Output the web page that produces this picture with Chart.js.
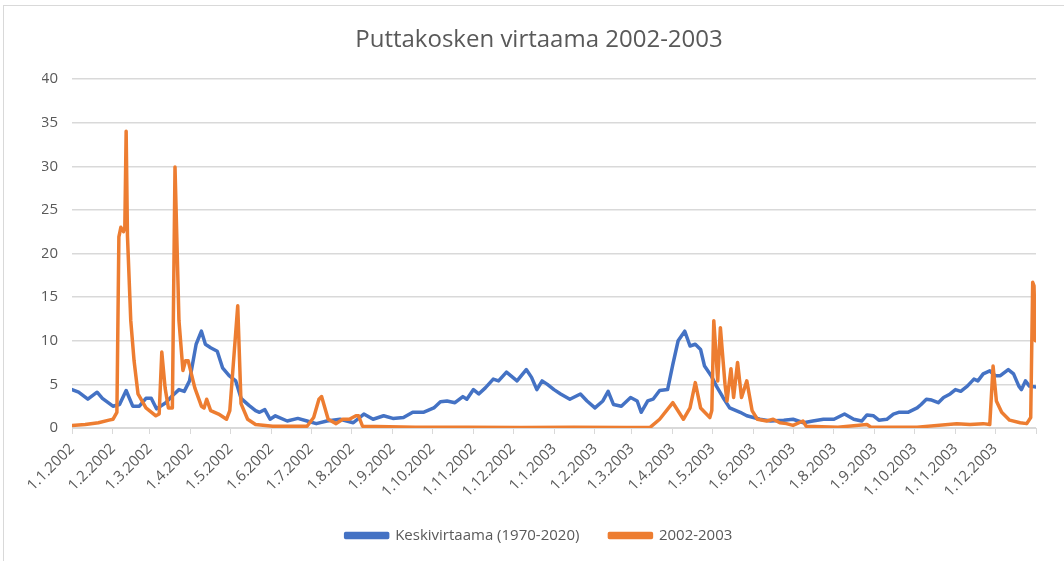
<!DOCTYPE html>
<html>
<head>
<meta charset="utf-8">
<script src="https://cdn.jsdelivr.net/npm/chart.js@4"></script>
<style>
  body { margin: 0; background: #fff; }
  #wrap { position: relative; width: 1064px; height: 561px; }
  #frame { position: absolute; left: 3px; top: 5px; right: 0; bottom: 0; border-top: 1px solid #d9d9d9; border-left: 1px solid #d9d9d9; }
  canvas { position: absolute; left: 0; top: 0; }
</style>
</head>
<body>
<div id="wrap">
  <div id="frame"></div>
  <canvas id="virtaama" width="1064" height="561"></canvas>
</div>
<script>
// Päivä 0 = 1.1.2002, viimeinen = 31.12.2003
const monthStartDays = [0, 31, 59, 90, 120, 151, 181, 212, 243, 273, 304, 334,
  365, 396, 424, 455, 485, 516, 546, 577, 608, 638, 669, 699, 730];
const tickLabels = ['1.1.2002', '1.2.2002', '1.3.2002', '1.4.2002', '1.5.2002', '1.6.2002',
  '1.7.2002', '1.8.2002', '1.9.2002', '1.10.2002', '1.11.2002', '1.12.2002',
  '1.1.2003', '1.2.2003', '1.3.2003', '1.4.2003', '1.5.2003', '1.6.2003',
  '1.7.2003', '1.8.2003', '1.9.2003', '1.10.2003', '1.11.2003', '1.12.2003', ''];

// Keskivirtaama (1970-2020): [päivä, m3/s]
const keskiDays = [0, 5, 12, 19, 23, 31, 36, 41, 46, 51, 56, 60, 64, 71, 76, 81, 85, 89, 94, 98,
  101, 105, 110, 114, 119, 124, 128, 134, 139, 142, 146, 150, 154, 163, 171, 178, 185, 193, 203,
  213, 221, 228, 236, 243, 251, 258, 266, 274, 279, 284, 290, 296, 299, 304, 308, 313, 319, 323,
  329, 337, 344, 348, 352, 356, 360, 365, 370, 377, 385, 390, 396, 402, 406, 410, 416, 423, 428,
  431, 436, 440, 445, 451, 455, 459, 464, 468, 472, 476, 479, 484, 488, 493, 498, 506, 511, 516,
  521, 529, 539, 546, 554, 561, 569, 577, 585, 592, 598, 602, 607, 611, 617, 622, 626, 633, 640,
  643, 647, 651, 656, 660, 665, 669, 673, 678, 683, 686, 690, 695, 699, 703, 709, 713, 717, 719,
  722, 725, 730];
const keskiValues = [4.4, 4.1, 3.3, 4.1, 3.4, 2.5, 2.7, 4.3, 2.5, 2.5, 3.4, 3.4, 2.2, 2.9, 3.7, 4.4,
  4.2, 5.4, 9.6, 11.1, 9.6, 9.2, 8.8, 6.9, 6.0, 5.4, 3.4, 2.6, 2.0, 1.8, 2.1, 1.0, 1.4, 0.8, 1.1,
  0.8, 0.5, 0.8, 1.0, 0.6, 1.6, 1.0, 1.4, 1.1, 1.2, 1.8, 1.8, 2.3, 3.0, 3.1, 2.9, 3.6, 3.3, 4.4,
  3.9, 4.6, 5.6, 5.4, 6.4, 5.4, 6.7, 5.8, 4.4, 5.4, 5.0, 4.4, 3.9, 3.3, 3.9, 3.1, 2.3, 3.1, 4.2,
  2.7, 2.5, 3.5, 3.1, 1.8, 3.1, 3.3, 4.3, 4.4, 7.3, 10.0, 11.1, 9.4, 9.6, 9.0, 7.1, 6.0, 4.8,
  3.5, 2.3, 1.8, 1.4, 1.2, 1.0, 0.8, 0.9, 1.0, 0.6, 0.8, 1.0, 1.0, 1.6, 1.0, 0.8, 1.5, 1.4, 0.9,
  1.0, 1.6, 1.8, 1.8, 2.3, 2.7, 3.3, 3.2, 2.9, 3.5, 3.9, 4.4, 4.2, 4.8, 5.6, 5.4, 6.2, 6.55, 6.0,
  6.0, 6.7, 6.2, 4.8, 4.4, 5.4, 4.8, 4.7];

// 2002-2003: [päivä, m3/s]
const vuosiDays = [0, 10, 20, 28, 31, 34, 35.5, 37, 39, 40, 41, 42, 44.5, 47, 50, 56, 63.5, 66,
  68, 70.5, 73, 76, 78, 81, 84, 86, 88, 93, 98, 100, 102, 105, 111, 117, 119.5, 125.5, 128, 133,
  139, 152, 178, 183, 187, 189, 194, 200, 205, 210, 215, 217, 220, 260, 300, 340, 380, 420, 438,
  445, 455, 463, 468, 472, 476, 483, 484.5, 486, 489, 491, 494.5, 496, 499, 501, 504, 507, 511,
  515, 519, 526, 531, 536, 541, 546, 553.5, 556, 580, 602, 605, 640, 670, 680, 690, 695, 697.5,
  700, 704, 710, 718, 723, 726, 727.5, 728.5, 729.5];
const vuosiValues = [0.3, 0.4, 0.6, 0.9, 1.0, 1.8, 21.9, 23.0, 22.5, 23.0, 34.0, 22.0, 12.3, 7.7,
  3.9, 2.3, 1.4, 1.6, 8.7, 4.6, 2.3, 2.3, 29.9, 12.3, 6.6, 7.7, 7.7, 4.6, 2.5, 2.3, 3.3, 2.0, 1.6,
  1.0, 2.0, 14.0, 2.8, 1.0, 0.4, 0.2, 0.2, 1.2, 3.3, 3.6, 1.0, 0.5, 1.0, 1.0, 1.4, 1.4, 0.2, 0.1,
  0.1, 0.05, 0.1, 0.05, 0.1, 1.0, 2.9, 1.0, 2.3, 5.2, 2.3, 1.2, 2.0, 12.3, 5.4, 11.5, 5.0, 3.1,
  6.8, 3.5, 7.5, 3.5, 5.4, 2.0, 1.0, 0.8, 1.0, 0.6, 0.5, 0.3, 0.8, 0.2, 0.1, 0.4, 0.1, 0.1, 0.5,
  0.4, 0.5, 0.4, 7.1, 3.1, 1.8, 0.9, 0.6, 0.5, 1.2, 16.7, 16.3, 10.0];

const yTicks = [0, 5, 10, 15, 20, 25, 30, 35, 40];

const toPoints = (days, values) => days.map((d, i) => ({ x: d, y: values[i] }));

const grey = '#595959';
const gridGrey = '#d9d9d9';

const ctx = document.getElementById('virtaama').getContext('2d');
const chart = new Chart(ctx, {
  type: 'line',
  data: {
    datasets: [{
      label: 'Keskivirtaama (1970-2020)',
      data: toPoints(keskiDays, keskiValues),
      borderColor: '#4472c4',
      backgroundColor: '#4472c4',
      borderWidth: 3.5,
      pointRadius: 0,
      order: 1
    }, {
      label: '2002-2003',
      data: toPoints(vuosiDays, vuosiValues),
      borderColor: '#ed7d31',
      backgroundColor: '#ed7d31',
      borderWidth: 3.5,
      pointRadius: 0,
      order: 0
    }]
  },
  options: {
    responsive: false,
    animation: false,
    layout: { padding: { left: 42, right: 28, top: 0, bottom: 8 } },
    elements: { line: { borderJoinStyle: 'round', borderCapStyle: 'round', tension: 0 } },
    plugins: {
      title: {
        display: true,
        text: 'Puttakosken virtaama 2002-2003',
        color: grey,
        font: { family: 'Open Sans', size: 24, weight: 'normal' },
        padding: { top: 25.6, bottom: 24.6 }
      },
      legend: {
        position: 'bottom',
        labels: {
          color: grey,
          font: { family: 'Open Sans', size: 15 },
          boxWidth: 42,
          boxHeight: 4,
          padding: 30,
          sort: (a, b) => a.datasetIndex - b.datasetIndex
        }
      },
      tooltip: { enabled: false }
    },
    scales: {
      x: {
        type: 'linear',
        min: 0,
        max: 730,
        afterBuildTicks: (scale) => {
          scale.ticks = monthStartDays.map(v => ({ value: v }));
        },
        afterFit: (scale) => { scale.height = 70; },
        ticks: {
          autoSkip: false,
          minRotation: 45,
          maxRotation: 45,
          color: grey,
          font: { family: 'Open Sans', size: 15 },
          padding: 6,
          callback: (value, index) => tickLabels[index]
        },
        grid: {
          drawOnChartArea: false,
          drawTicks: true,
          tickLength: 6,
          color: gridGrey
        },
        border: { display: true, color: gridGrey, width: 1 }
      },
      y: {
        min: 0,
        max: 40,
        afterBuildTicks: (scale) => {
          scale.ticks = yTicks.map(v => ({ value: v }));
        },
        afterFit: (scale) => { scale.width = 30; },
        ticks: {
          color: grey,
          font: { family: 'Open Sans', size: 15 },
          padding: 14
        },
        grid: {
          drawTicks: false,
          color: gridGrey,
          lineWidth: 1.5
        },
        border: { display: false }
      }
    }
  }
});
</script>
</body>
</html>
